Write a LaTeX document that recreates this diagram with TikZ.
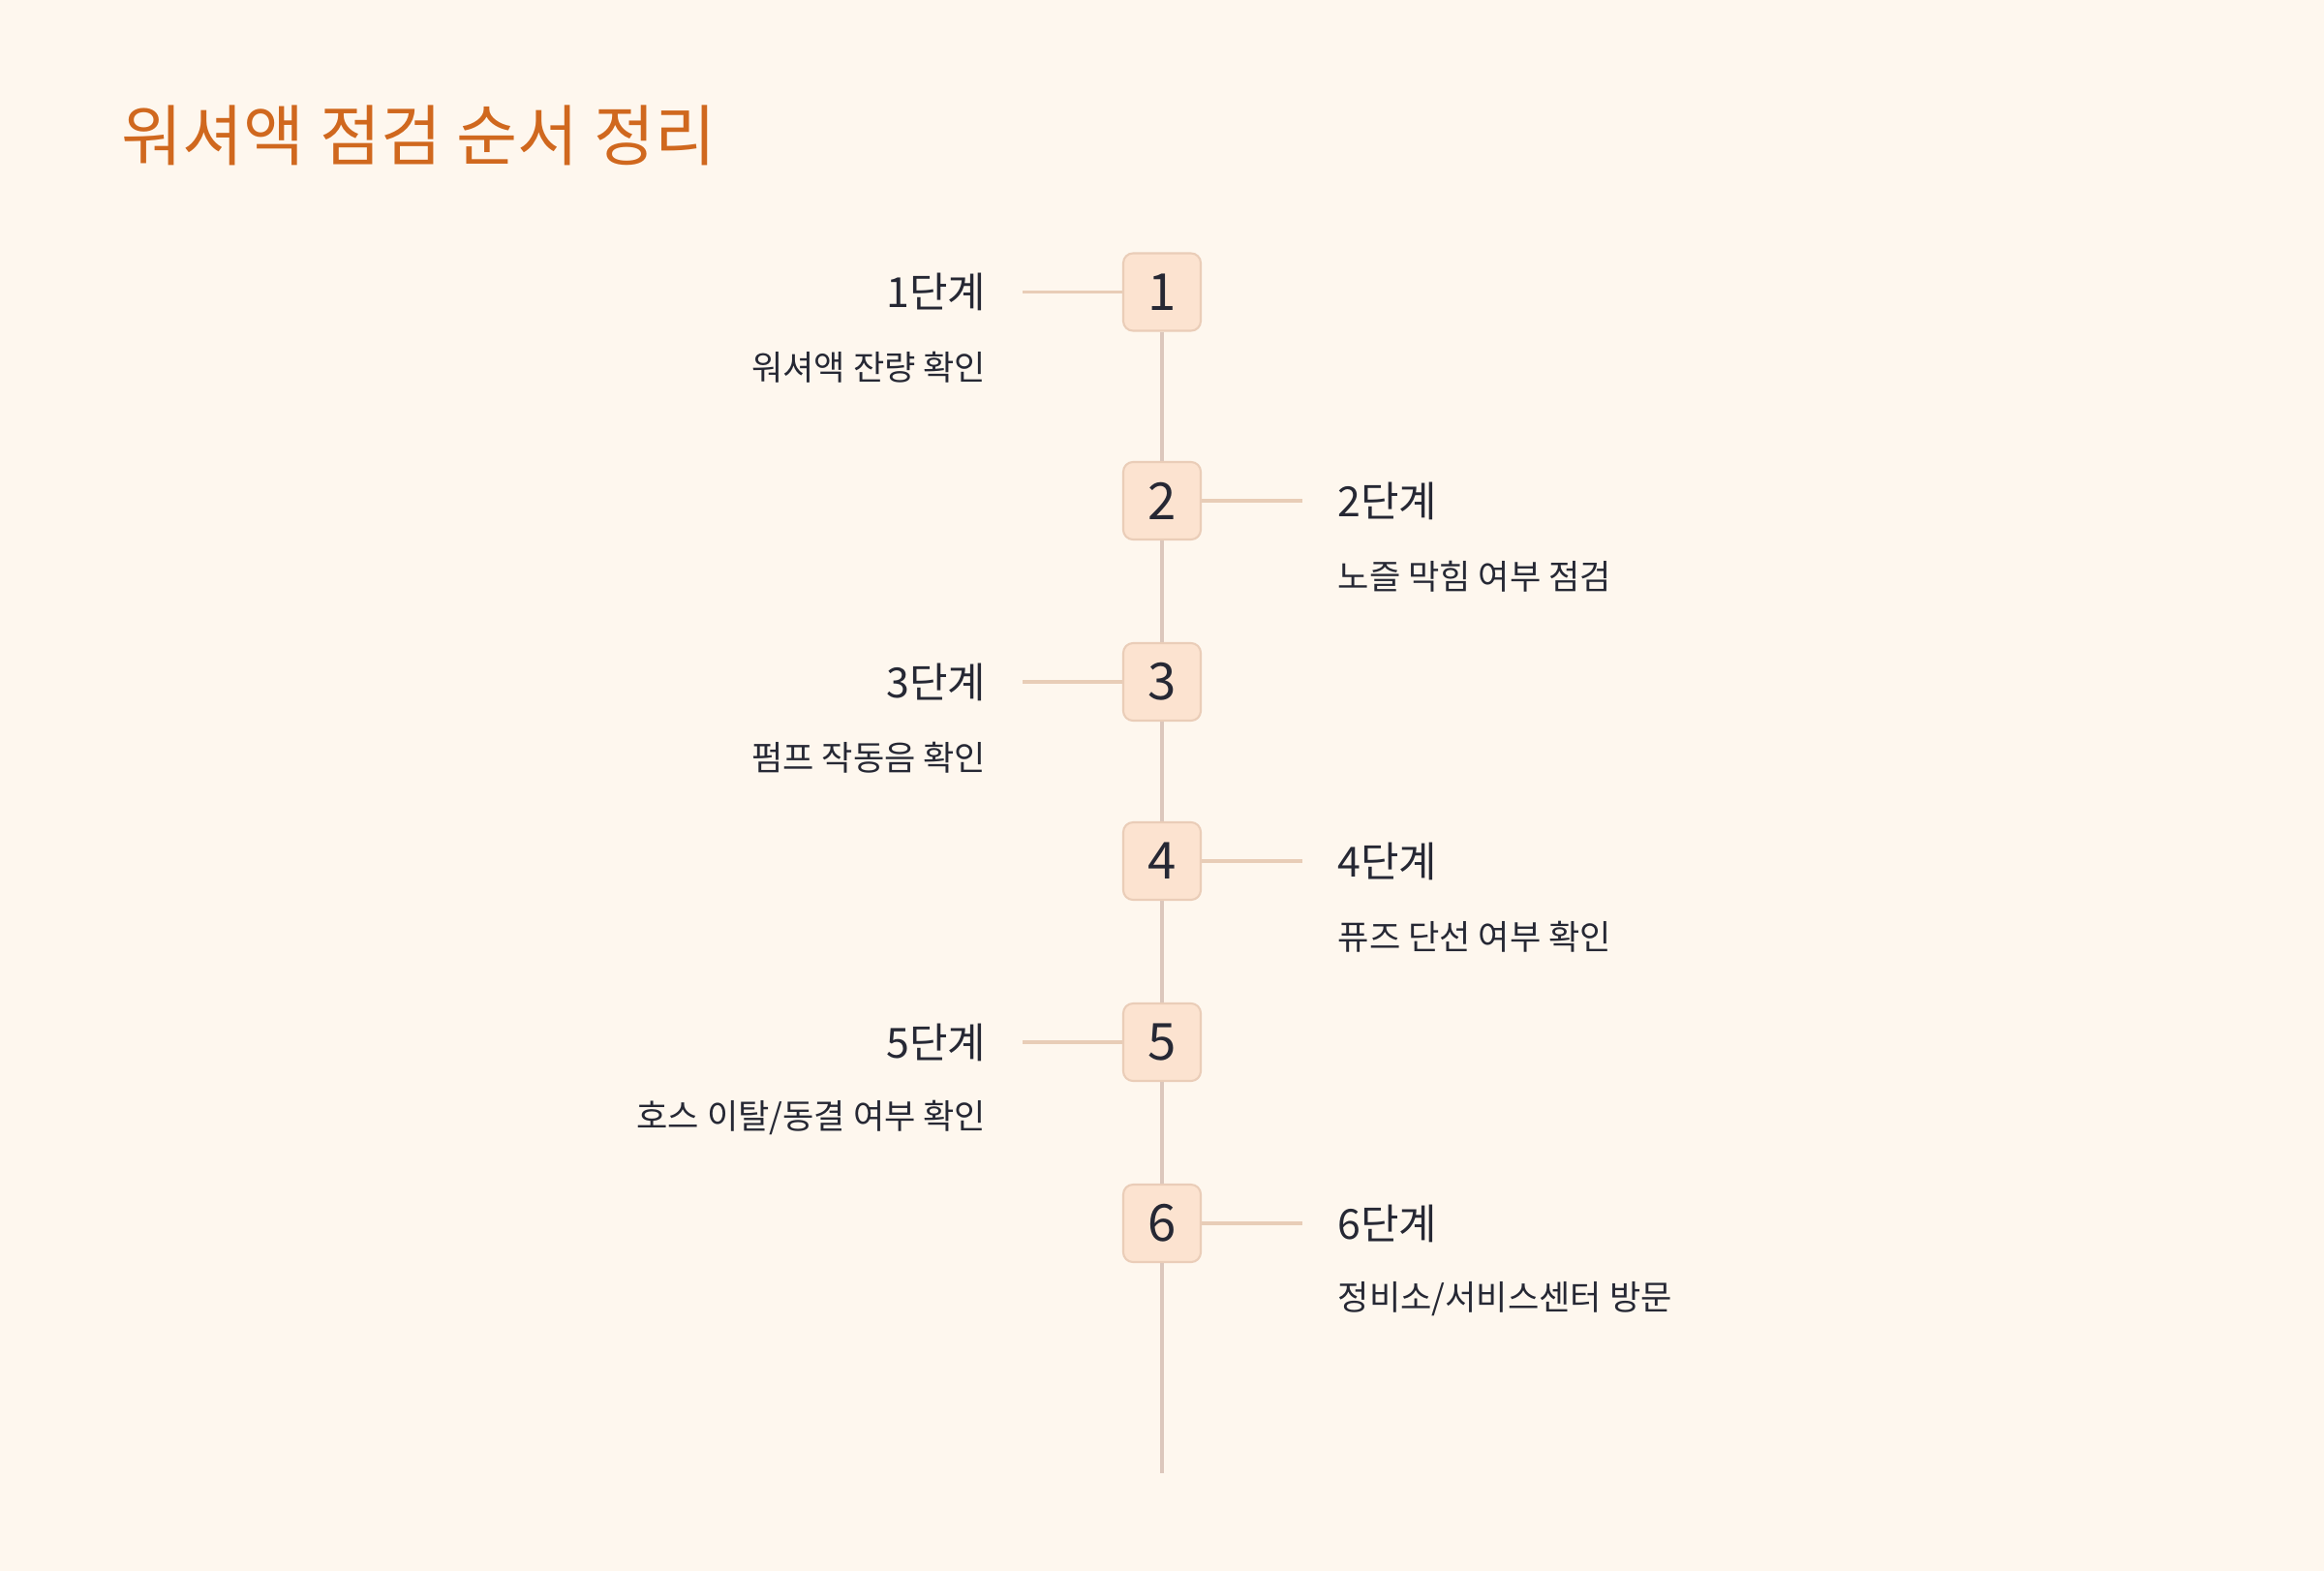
\documentclass[tikz,border=0pt]{standalone}
\usepackage{fontspec}
\setmainfont{Noto Sans CJK KR}
\usepackage{tikz}
\usepackage{xcolor}

\begin{document}
\begin{tikzpicture}[numbox/.style={draw=boxline,fill=boxfill,rounded corners=0.1cm,minimum size=0.8cm,line width=0.6pt,text=ink,font=\fontsize{15pt}{17pt}\selectfont},
  steptitle/.style={text=ink,inner sep=0,font=\fontsize{12.2pt}{14pt}\selectfont},
  stepdesc/.style={text=ink,inner sep=0,font=\fontsize{10pt}{12pt}\selectfont},
  tick/.style={draw=tickline,line width=1.1pt},
  spine/.style={draw=spineline,line width=0.9pt}]
\definecolor{bg}{HTML}{FEF7EE}
\definecolor{titlecol}{HTML}{D0681E}
\definecolor{boxfill}{HTML}{FCE3D0}
\definecolor{boxline}{HTML}{EACDB8}
\definecolor{tickline}{HTML}{E8CDB7}
\definecolor{spineline}{HTML}{DCC7BC}
\definecolor{ink}{HTML}{262834}
\fill[bg] (0,0) rectangle (24,-16.22);
\node[anchor=west,inner sep=0,text=titlecol,font=\fontsize{19.5pt}{23pt}\selectfont] (title) at (1.25,-1.40) {워셔액 점검 순서 정리};
  \foreach \n/\y in {1/-3.015,2/-5.17,3/-7.04,4/-8.89,5/-10.76,6/-12.63}
  {  \node [numbox] (box\n) at (12,\y) {\n};}
  \foreach \n [evaluate=\n as \m using int(\n+1)] in {1,...,5}
  {  \draw [spine] (box\n.south) -- (box\m.north);}
\coordinate (spineend) at (12,-15.21);
\draw [spine] (box6.south) -- (spineend);
  \foreach \n/\y/\desc in {1/-3.015/{워셔액 잔량 확인},3/-7.04/{펌프 작동음 확인},5/-10.76/{호스 이탈/동결 여부 확인}}
  {  \coordinate (tip\n) at (10.56,\y);
     \draw [tick] (box\n.west) -- (tip\n);
     \node [steptitle,anchor=east] (step\n) at (10.19,\y) {\n{}단계};
     \node [stepdesc,anchor=east] (desc\n) at (10.19,\y-0.78) {\desc};}
  \foreach \n/\y/\desc in {2/-5.17/{노즐 막힘 여부 점검},4/-8.89/{퓨즈 단선 여부 확인},6/-12.63/{정비소/서비스센터 방문}}
  {  \coordinate (tip\n) at (13.45,\y);
     \draw [tick] (box\n.east) -- (tip\n);
     \node [steptitle,anchor=west] (step\n) at (13.81,\y) {\n{}단계};
     \node [stepdesc,anchor=west] (desc\n) at (13.81,\y-0.78) {\desc};}
\end{tikzpicture}
\end{document}
